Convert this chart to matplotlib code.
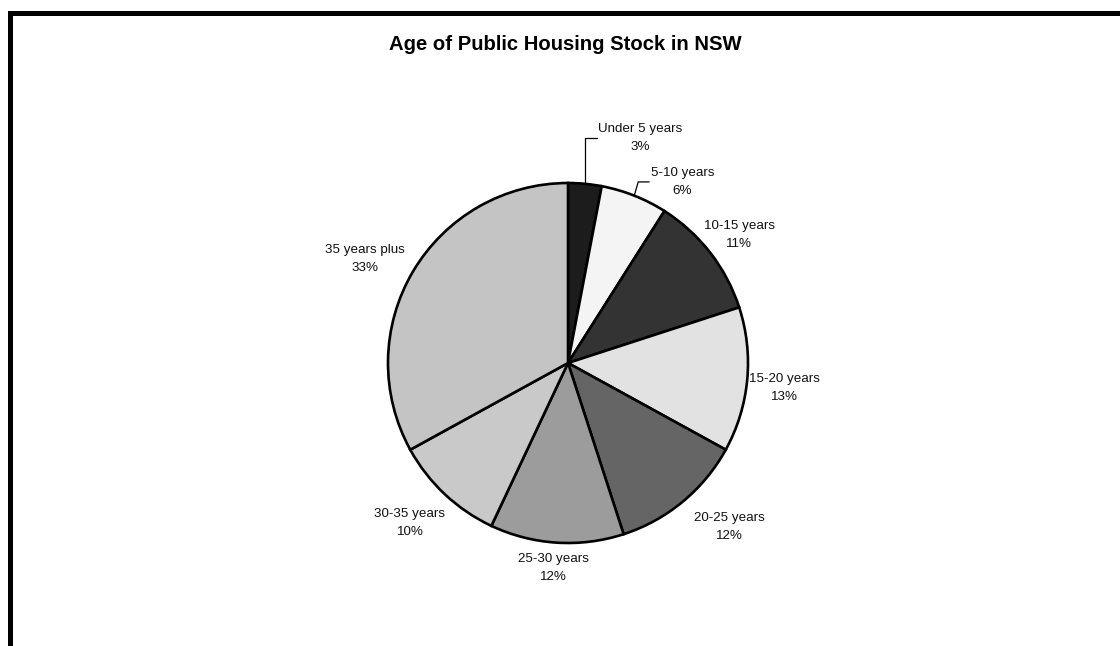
import matplotlib
matplotlib.use("Agg")
import matplotlib.pyplot as plt
from matplotlib.patches import Rectangle
from matplotlib.lines import Line2D
import numpy as np

plt.rcParams["font.family"] = ["Liberation Sans", "DejaVu Sans"]

# Age bands of the public housing stock and their shares (%)
categories = ["Under 5 years", "5-10 years", "10-15 years", "15-20 years",
              "20-25 years", "25-30 years", "30-35 years", "35 years plus"]
shares = [3, 6, 11, 13, 12, 12, 10, 33]
title = "Age of Public Housing Stock in NSW"

# Fill shades for each wedge
fills = ["#1c1c1c", "#f4f4f4", "#333333", "#e2e2e2",
         "#656565", "#9c9c9c", "#c9c9c9", "#c4c4c4"]

# Label anchor offsets (in pie-radius units) and which labels get leader lines
label_pos = [(0.40, 1.25), (0.635, 1.006), (0.95, 0.711), (1.20, -0.139),
             (0.894, -0.911), (-0.083, -1.139), (-0.878, -0.889), (-1.128, 0.578)]
leader_end = [0.161, 0.45, None, None, None, None, None, None]

W, H = 1120, 646
fig = plt.figure(figsize=(W / 100, H / 100), dpi=100)
fig.patch.set_facecolor("white")

cx, cy, R = 568, 363, 180  # pie centre and radius in pixels (from top-left)
ax = fig.add_axes([(cx - R) / W, (H - cy - R) / H, 2 * R / W, 2 * R / H])

wedges, _ = ax.pie(shares, colors=fills, startangle=90, counterclock=False,
                   radius=1.0, center=(0, 0), frame=False,
                   wedgeprops=dict(edgecolor="black", linewidth=1.9))
ax.set_xlim(-1, 1)
ax.set_ylim(-1, 1)
ax.set_aspect("auto")
ax.axis("off")

for w, name, val, (lx, ly), end in zip(wedges, categories, shares, label_pos, leader_end):
    ax.text(lx, ly, f"{name}\n{val}%", ha="center", va="center",
            fontsize=9.6, color="#111111", linespacing=1.65, clip_on=False)
    if end is not None:
        mid = np.deg2rad((w.theta1 + w.theta2) / 2)
        ex, ey = np.cos(mid), np.sin(mid)
        elbow_x = ex if ex < 0.2 else ex + 0.022
        ax.add_line(Line2D([ex, elbow_x, end], [ey, ly, ly],
                           color="black", linewidth=0.9, clip_on=False))

fig.text(565 / W, 1 - 45 / H, title, ha="center", va="center",
         fontsize=14.6, fontweight="bold", color="black")

# Chart-area frame (top and left edges visible)
fig.add_artist(Rectangle((9.5 / W, -0.5), 2.0, 1 - 12.5 / H + 0.5,
                         transform=fig.transFigure, fill=False,
                         edgecolor="black", linewidth=3.6))

fig.savefig("out.png", dpi=100, facecolor="white")
